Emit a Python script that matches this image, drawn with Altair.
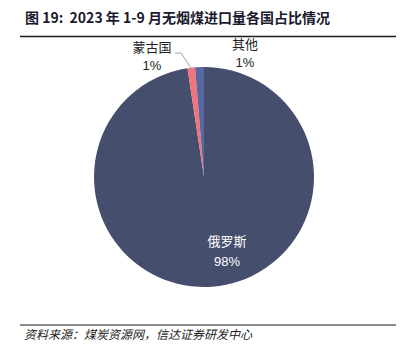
import altair as alt
import pandas as pd

countries = ["俄罗斯", "蒙古国", "其他"]
shares = [97.6, 1.1, 1.3]
share_labels = ["98%", "1%", "1%"]
colors = ["#464E6E", "#F2737A", "#5767A0"]

title_text = "图 19:\u00a0 2023 年 1-9 月无烟煤进口量各国占比情况"
source_text = "资料来源：煤炭资源网，信达证券研发中心"

df = pd.DataFrame({"country": countries, "share": shares,
                   "label": share_labels, "order": [0, 1, 2]})

W, H = 390, 348
OX, OY = 8, 8  # page offset
cx, cy, R = 204 - OX, 177 - OY, 110

pie = alt.Chart(df).mark_arc(outerRadius=R, stroke=None).encode(
    theta=alt.Theta("share:Q", stack=True),
    order=alt.Order("order:Q"),
    color=alt.Color("country:N", scale=alt.Scale(domain=countries, range=colors), legend=None),
    x=alt.value(cx), y=alt.value(cy),
)

font = "Noto Sans CJK SC"

def txt(data, field, x, y, size=13, color="#000000", weight="normal", align="center", style="normal", f=font):
    return alt.Chart(data).mark_text(fontSize=size, color=color, fontWeight=weight, align=align,
                                     baseline="middle", font=f, fontStyle=style).encode(
        text=alt.Text(field + ":N"), x=alt.value(x - OX), y=alt.value(y - OY))

d_ru = df[df.country == "俄罗斯"]
d_mn = df[df.country == "蒙古国"]
d_ot = df[df.country == "其他"]

labels = [
    txt(d_ru, "country", 227, 242, color="#FFFFFF"),
    txt(d_ru, "label", 227, 262, color="#FFFFFF", f="Liberation Sans"),
    txt(d_mn, "country", 152, 48, color="#222222"),
    txt(d_mn, "label", 152, 66, color="#222222", f="Liberation Sans"),
    txt(d_ot, "country", 245, 45, color="#222222"),
    txt(d_ot, "label", 245, 63, color="#222222", f="Liberation Sans"),
]

meta = pd.DataFrame({"t": [title_text], "s": [source_text]})
title = alt.Chart(meta).mark_text(fontSize=14, fontWeight="bold", align="left", baseline="middle",
                                  font=font, color="#1A1A2E").encode(
    text="t:N", x=alt.value(25 - OX), y=alt.value(19 - OY))
source = alt.Chart(meta).mark_text(fontSize=12, align="left", baseline="middle", font=font,
                                   fontStyle="italic", color="#222222").encode(
    text="s:N", x=alt.value(24 - OX), y=alt.value(335 - OY))

def rule(x1, y1, x2, y2, color, w):
    return alt.Chart(meta).mark_rule(color=color, strokeWidth=w).encode(
        x=alt.value(x1 - OX), x2=alt.value(x2 - OX), y=alt.value(y1 - OY), y2=alt.value(y2 - OY))

rules = [
    rule(20, 36.5, 396, 36.5, "#1A1A1A", 1.5),
    rule(20, 325, 396, 325, "#1A1A1A", 1.2),
    rule(175, 53, 181, 53, "#A0A0A0", 1),
    rule(181, 53, 191, 68, "#A0A0A0", 1),
]

chart = alt.layer(pie, *labels, title, source, *rules).properties(
    width=W, height=H, padding=0, autosize=alt.AutoSizeParams(type="none")
).configure_view(stroke=None)

chart.save("out.html", embed_options={"renderer": "svg", "actions": False})
